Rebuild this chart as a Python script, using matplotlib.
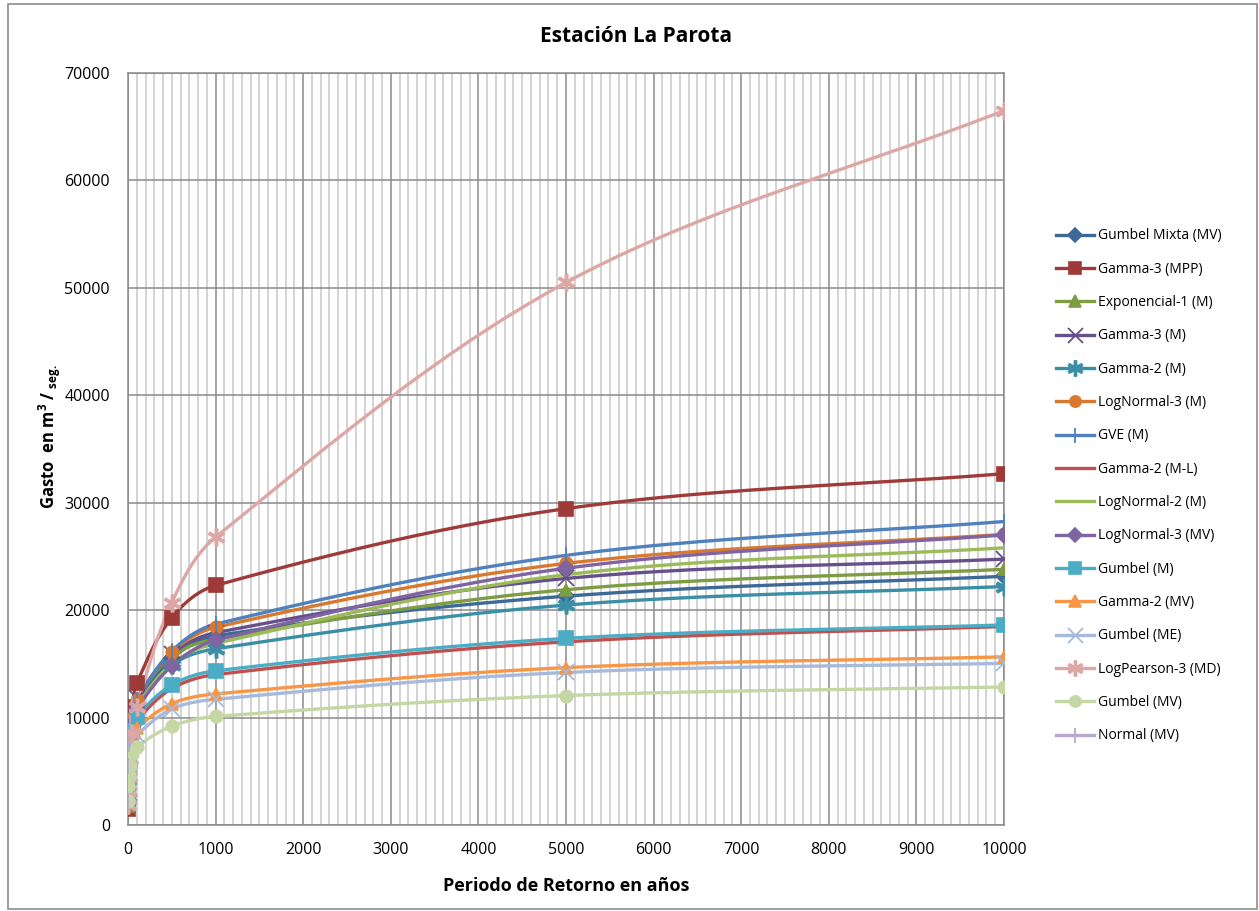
"""Curvas de gasto vs periodo de retorno, estacion La Parota."""

import matplotlib
import numpy as np

matplotlib.use("Agg")
import matplotlib.pyplot as plt
from matplotlib.patches import Rectangle
from matplotlib.ticker import MultipleLocator

plt.rcParams["font.family"] = ["Open Sans", "DejaVu Sans"]

# periodos de retorno (anios)
tr = [2, 5, 10, 20, 50, 100, 500, 1000, 5000, 10000]
tr_normal = [2, 5, 10, 20, 50]

# gastos (m3/s)
gumbel_mixta_mv = [2300, 3800, 5500, 7500, 9700, 11200, 15500, 17600, 21300, 23150]
gamma3_mpp = [1500, 3900, 6000, 8200, 11000, 13200, 19300, 22300, 29450, 32700]
exponencial1_m = [1800, 3600, 5400, 7400, 9900, 11700, 15700, 17300, 21900, 23800]
gamma3_m = [2600, 4800, 6400, 8000, 10100, 11800, 15900, 17900, 22950, 24750]
gamma2_m = [2500, 4600, 6100, 7600, 9500, 11000, 14900, 16400, 20470, 22200]
lognormal3_m = [2600, 4900, 6500, 8000, 10000, 11600, 16100, 18400, 24350, 27050]
gve_m = [2400, 4700, 6400, 8000, 10000, 11600, 16200, 18700, 25100, 28250]
gamma2_ml = [2400, 4300, 5600, 6900, 8500, 9700, 12700, 14000, 17050, 18480]
lognormal2_m = [3000, 4900, 6300, 7700, 9500, 11000, 15000, 16900, 23300, 25800]
lognormal3_mv = [2700, 4700, 6200, 7600, 9400, 10800, 14800, 17200, 23900, 27000]
gumbel_m = [2230, 4330, 5720, 7060, 8780, 10070, 13040, 14350, 17370, 18620]
gamma2_mv = [2600, 4500, 5700, 6800, 8100, 9000, 11300, 12200, 14650, 15650]
gumbel_me = [2190, 3840, 4930, 5980, 7330, 8350, 10800, 11700, 14200, 15050]
logpearson3_md = [1900, 3200, 4500, 6100, 8600, 11000, 20700, 26800, 50500, 66500]
gumbel_mv = [2200, 3600, 4600, 5500, 6600, 7300, 9200, 10100, 12050, 12850]
normal_mv = [2100, 5500, 7500, 9500, 11300]

series = [
    ("Gumbel Mixta (MV)", tr, gumbel_mixta_mv, "#3c6998", "D"),
    ("Gamma-3 (MPP)", tr, gamma3_mpp, "#9e3b39", "s"),
    ("Exponencial-1 (M)", tr, exponencial1_m, "#7e9d43", "^"),
    ("Gamma-3 (M)", tr, gamma3_m, "#67508a", "x"),
    ("Gamma-2 (M)", tr, gamma2_m, "#3a8fa6", "$\u2217$"),
    ("LogNormal-3 (M)", tr, lognormal3_m, "#d9782f", "o"),
    ("GVE (M)", tr, gve_m, "#4f81bd", "|"),
    ("Gamma-2 (M-L)", tr, gamma2_ml, "#c0504d", "None"),
    ("LogNormal-2 (M)", tr, lognormal2_m, "#9bbb59", "None"),
    ("LogNormal-3 (MV)", tr, lognormal3_mv, "#8064a2", "D"),
    ("Gumbel (M)", tr, gumbel_m, "#4bacc6", "s"),
    ("Gamma-2 (MV)", tr, gamma2_mv, "#f79646", "^"),
    ("Gumbel (ME)", tr, gumbel_me, "#a8badb", "x"),
    ("LogPearson-3 (MD)", tr, logpearson3_md, "#dda7a6", "$\u2217$"),
    ("Gumbel (MV)", tr, gumbel_mv, "#c4d7a4", "o"),
    ("Normal (MV)", tr_normal, normal_mv, "#b7a8cc", "|"),
]

X_MAX, Y_MAX = 10000, 70000
W_PX, H_PX = 876, 752


def smooth(xs, ys, n=40):
    """Linea suavizada (Bezier) en espacio de pantalla, tangentes limitadas por tramo."""
    p = np.column_stack([np.asarray(xs, float) / X_MAX * W_PX,
                         np.asarray(ys, float) / Y_MAX * H_PX])
    if len(p) < 3:
        return xs, ys
    tang = np.empty_like(p)
    tang[0] = p[1] - p[0]
    tang[-1] = p[-1] - p[-2]
    tang[1:-1] = p[2:] - p[:-2]
    tang /= np.linalg.norm(tang, axis=1)[:, None]
    t = np.linspace(0, 1, n)[:, None]
    out = []
    for i in range(len(p) - 1):
        p0, p1 = p[i], p[i + 1]
        seg_len = np.linalg.norm(p1 - p0) / 3.0
        c1 = p0 + tang[i] * seg_len
        c2 = p1 - tang[i + 1] * seg_len
        seg = ((1 - t) ** 3) * p0 + 3 * ((1 - t) ** 2) * t * c1 + 3 * (1 - t) * t ** 2 * c2 + t ** 3 * p1
        out.append(seg if i == 0 else seg[1:])
    out = np.vstack(out)
    return out[:, 0] / W_PX * X_MAX, out[:, 1] / H_PX * Y_MAX


fig = plt.figure(figsize=(12.59, 9.11), dpi=100)
fig.patches.append(Rectangle((8 / 1259, 2 / 911), 1249 / 1259, 905 / 911, transform=fig.transFigure,
                             fill=False, edgecolor="#8c8c8c", linewidth=1.2))
ax = fig.add_axes([128 / 1259, 86 / 911, 876 / 1259, 752 / 911])

for name, xs, ys, color, marker in series:
    sx, sy = smooth(xs, ys)
    ax.plot(sx, sy, color=color, linewidth=2.4, solid_capstyle="round", zorder=3)
    ms, mew = 9, 1.2
    if marker in ("x", "|", "$\u2217$"):
        ms, mew = 12, 1.3
    if marker == "D":
        ms = 8
    if marker == "s":
        ms = 10
    ax.plot(xs, ys, linestyle="None", marker=marker, markersize=ms, color=color,
            markeredgecolor=color, markeredgewidth=mew, zorder=4)
    ax.plot([], [], color=color, linewidth=2.4, marker=marker, markersize=ms * 0.9,
            markeredgewidth=mew, label=name)

ax.set_xlim(0, X_MAX)
ax.set_ylim(0, Y_MAX)
ax.xaxis.set_major_locator(MultipleLocator(1000))
ax.xaxis.set_minor_locator(MultipleLocator(100))
ax.yaxis.set_major_locator(MultipleLocator(10000))
ax.grid(which="minor", axis="x", color="#c8c8c8", linewidth=1.1, zorder=0)
ax.grid(which="major", axis="x", color="#8a8a8a", linewidth=1.1, zorder=1)
ax.grid(which="major", axis="y", color="#8a8a8a", linewidth=1.1, zorder=1)
ax.set_axisbelow(True)
for s in ax.spines.values():
    s.set_color("#8a8a8a")
    s.set_linewidth(1.1)
ax.tick_params(which="both", length=0, labelsize=11.5)
ax.tick_params(axis="y", pad=13)
ax.tick_params(axis="x", pad=12)

fig.text(0.505, 1 - 36 / 911, "Estación La Parota", fontsize=15, fontweight="bold",
         ha="center", va="center")
ax.set_xlabel("Periodo de Retorno en años", fontsize=13, fontweight="bold", labelpad=14)
ax.set_ylabel("Gasto  en m$^\\mathregular{3}$ / $_\\mathregular{seg.}$", fontsize=12,
              fontweight="bold")
ax.yaxis.set_label_coords(-0.074, 0.516)

ax.legend(loc="upper left", bbox_to_anchor=(1043 / 1259, 1 - 216 / 911), bbox_transform=fig.transFigure,
          frameon=False, fontsize=10, handlelength=2.8, labelspacing=1.32, handletextpad=0.25)

fig.savefig("out.png", dpi=100)
